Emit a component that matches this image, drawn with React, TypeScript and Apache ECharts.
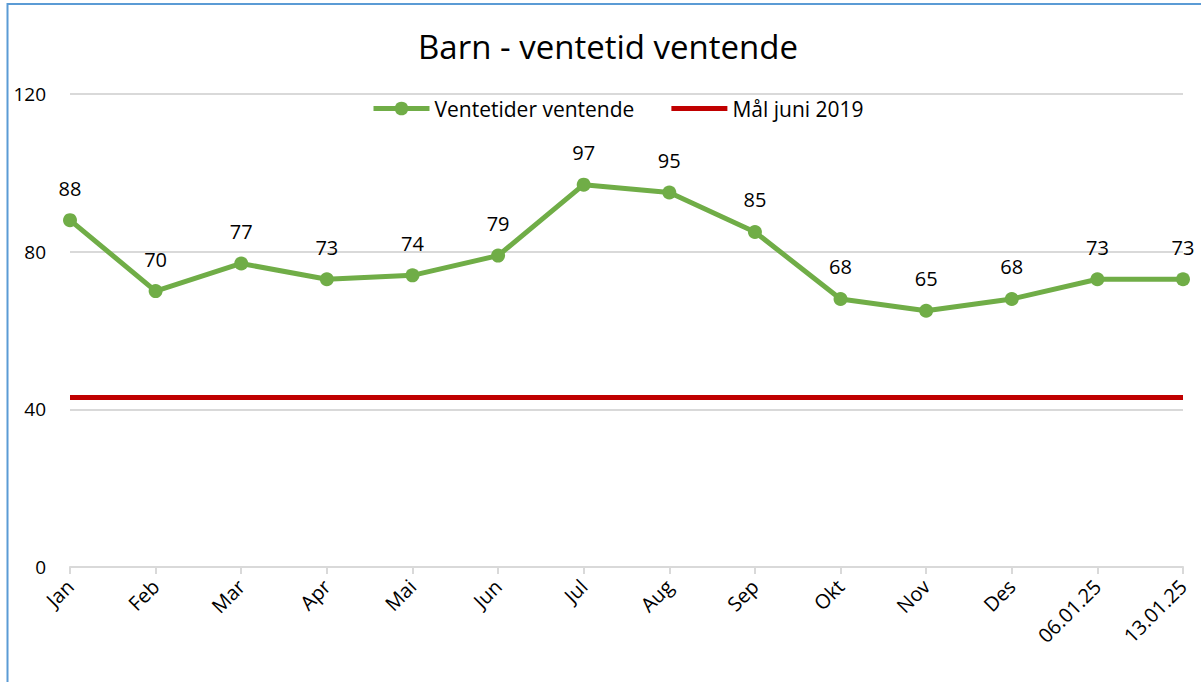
import React, { useEffect, useRef } from "react";
import * as echarts from "echarts";

const categories = ["Jan", "Feb", "Mar", "Apr", "Mai", "Jun", "Jul", "Aug", "Sep", "Okt", "Nov", "Des", "06.01.25", "13.01.25"];
const waitValues = [88, 70, 77, 73, 74, 79, 97, 95, 85, 68, 65, 68, 73, 73];
const goalValue = 43;
const goalValues = categories.map(() => goalValue);
const yTicks = { min: 0, max: 120, interval: 40 };

const FONT = "'Open Sans', Lato, sans-serif";

export default function App() {
  const ref = useRef<HTMLDivElement>(null);
  useEffect(() => {
    if (!ref.current) return;
    const chart = echarts.init(ref.current, undefined, { renderer: "svg" });
    chart.setOption({
      animation: false,
      backgroundColor: "#ffffff",
      textStyle: { fontFamily: FONT },
      title: {
        text: "Barn - ventetid ventende",
        left: 413,
        top: 25,
        textStyle: { fontFamily: FONT, fontSize: 33, fontWeight: "normal", color: "#000" },
      },
      legend: {
        top: 98,
        left: 371,
        padding: 0,
        itemWidth: 56,
        itemHeight: 17,
        itemGap: 37,
        lineStyle: { width: 5 },
        textStyle: { fontFamily: FONT, fontSize: 21, color: "#000" },
        data: [
          { name: "Ventetider ventende" },
          { name: "Mål juni 2019", icon: "path://M0,0 L56,0 L56,5 L0,5 Z", itemStyle: { color: "#C00000" } },
        ],
      },
      grid: { left: 70, right: 18, top: 94, bottom: 115, containLabel: false },
      xAxis: {
        type: "category",
        data: categories,
        boundaryGap: false,
        axisLine: { lineStyle: { color: "#D9D9D9", width: 2 } },
        axisTick: { show: true, alignWithLabel: true, length: 7, lineStyle: { color: "#D9D9D9", width: 2 } },
        axisLabel: { rotate: 45, fontFamily: FONT, fontSize: 20, color: "#000", margin: 16, interval: 0 },
      },
      yAxis: {
        type: "value",
        min: yTicks.min,
        max: yTicks.max,
        interval: yTicks.interval,
        axisLine: { show: false },
        axisTick: { show: false },
        axisLabel: { fontFamily: FONT, fontSize: 19, color: "#000", margin: 24 },
        splitLine: { lineStyle: { color: "#D9D9D9", width: 2 } },
      },
      graphic: [
        {
          type: "rect",
          shape: { x: 7.5, y: 4, width: 1300, height: 800 },
          style: { fill: "none", stroke: "#5B9BD5", lineWidth: 2 },
          silent: true,
        },
      ],
      series: [
        {
          name: "Mål juni 2019",
          type: "line",
          data: goalValues,
          symbol: "none",
          lineStyle: { color: "#C00000", width: 5 },
          itemStyle: { color: "#C00000" },
          z: 2,
        },
        {
          name: "Ventetider ventende",
          type: "line",
          data: waitValues,
          symbol: "circle",
          symbolSize: 14,
          lineStyle: { color: "#70AD47", width: 5 },
          itemStyle: { color: "#70AD47" },
          label: { show: true, position: "top", distance: 15, fontFamily: FONT, fontSize: 20, color: "#000" },
          z: 3,
        },
      ],
    });
    return () => chart.dispose();
  }, []);
  return <div ref={ref} style={{ position: "fixed", left: 0, top: 0, width: 1201, height: 682 }} />;
}
